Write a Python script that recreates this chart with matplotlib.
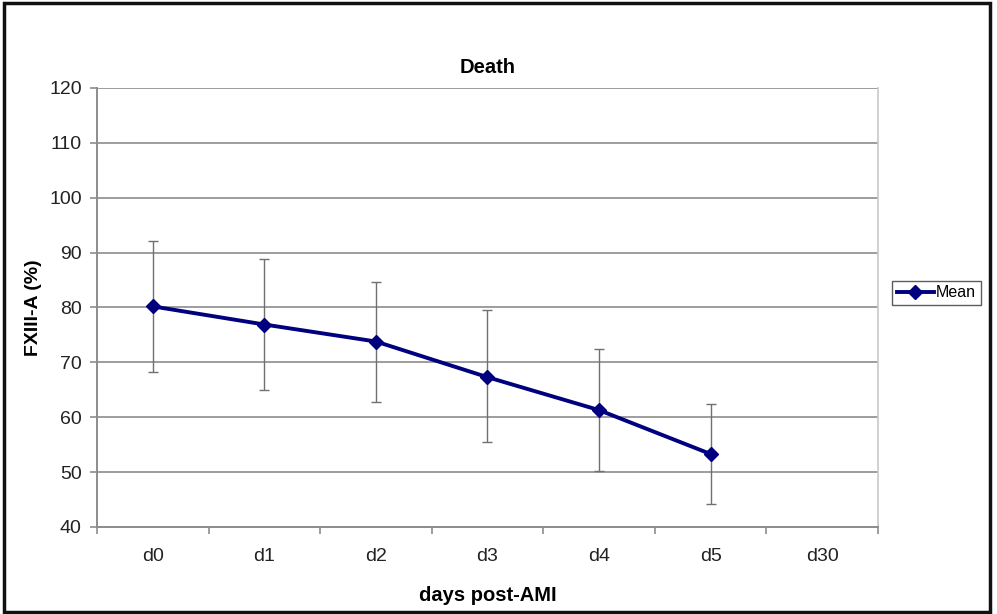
"""FXIII-A over days post-AMI, death group"""
import matplotlib
matplotlib.use("Agg")
import matplotlib.pyplot as plt
from matplotlib.patches import Rectangle

plt.rcParams["font.family"] = ["Liberation Sans", "DejaVu Sans"]

days = ["d0", "d1", "d2", "d3", "d4", "d5", "d30"]
mean_vals = [80.2, 76.9, 73.8, 67.3, 61.3, 53.3]
err_upper = [92.2, 88.9, 84.7, 79.5, 72.4, 62.4]
err_lower = [68.2, 64.9, 62.7, 55.5, 50.2, 44.2]
y_ticks = [40, 50, 60, 70, 80, 90, 100, 110, 120]

_LINE = "#00007f"
_GRID = "#8c8c8c"
_ERR = "#707070"
_TXT = "#222222"

fig = plt.figure(figsize=(9.97, 6.14), dpi=100, facecolor="white")
ax = fig.add_axes([0.0973, 0.1417, 0.7833, 0.7150])

xs = list(range(len(mean_vals)))
yerr = [[m - lo for m, lo in zip(mean_vals, err_lower)],
        [hi - m for m, hi in zip(mean_vals, err_upper)]]

ax.errorbar(xs, mean_vals, yerr=yerr, fmt="none", ecolor=_ERR,
            elinewidth=1.0, capsize=3.5, capthick=1.0, zorder=2)
ax.plot(xs, mean_vals, color=_LINE, linewidth=2.8, marker="D",
        markersize=7, markerfacecolor=_LINE, markeredgecolor=_LINE,
        label="Mean", zorder=3)

ax.set_xlim(-0.5, len(days) - 0.5)
ax.set_ylim(40, 120)
ax.set_yticks(y_ticks)
ax.set_xticks(range(len(days)))
ax.set_xticklabels(days)
ax.set_xticks([i - 0.5 for i in range(len(days) + 1)], minor=True)
ax.tick_params(axis="x", which="major", length=0, pad=15, labelsize=14,
               colors=_TXT)
ax.tick_params(axis="x", which="minor", length=5, direction="out",
               color=_GRID, width=1.2)
ax.tick_params(axis="y", length=5, direction="out", color=_GRID, width=1.2,
               labelsize=14, labelcolor=_TXT, pad=6)

ax.yaxis.grid(True, color=_GRID, linewidth=1.2)
ax.set_axisbelow(True)
for side in ("left", "bottom"):
    ax.spines[side].set_color(_GRID)
    ax.spines[side].set_linewidth(1.4)
ax.spines["right"].set_color("#c8c8c8")
ax.spines["right"].set_linewidth(1.2)
ax.spines["top"].set_visible(False)

ax.set_title("Death", fontsize=14.5, fontweight="bold", pad=11)
ax.set_xlabel("days post-AMI", fontsize=14.5, fontweight="bold", labelpad=15)
ax.set_ylabel("FXIII-A (%)", fontsize=14, fontweight="bold", labelpad=5)

leg = fig.legend(loc="center left", bbox_to_anchor=(0.895, 0.523),
                 fontsize=11.5, frameon=True, fancybox=False,
                 handlelength=2.3, handletextpad=0.15, borderpad=0.3,
                 borderaxespad=0)
leg.get_frame().set_edgecolor("#333333")
leg.get_frame().set_linewidth(1.0)

# outer chart border
fig.patches.append(Rectangle((0.004, 0.003), 0.989, 0.992,
                             transform=fig.transFigure, fill=False,
                             edgecolor="#111111", linewidth=2.5))

fig.savefig("out.png", dpi=100, facecolor="white")
